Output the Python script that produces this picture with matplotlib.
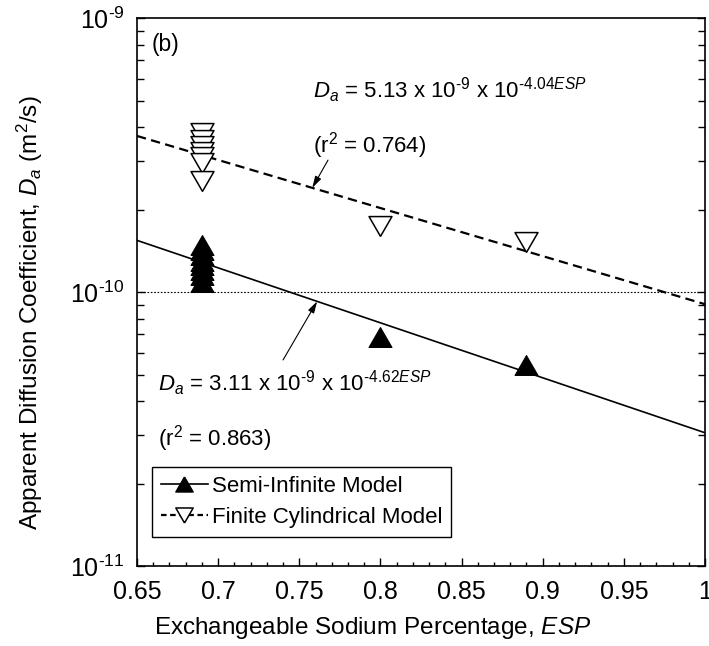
import numpy as np
import matplotlib
matplotlib.use('Agg')
import matplotlib.pyplot as plt
from matplotlib.ticker import MultipleLocator, FormatStrFormatter, LogLocator, FuncFormatter, NullFormatter

plt.rcParams['font.family'] = ['Liberation Sans', 'DejaVu Sans']
plt.rcParams['mathtext.fontset'] = 'custom'
plt.rcParams['mathtext.rm'] = 'Liberation Sans'
plt.rcParams['mathtext.it'] = 'Liberation Sans:italic'
plt.rcParams['mathtext.bf'] = 'Liberation Sans:bold'

# measured points (ESP, apparent diffusion coefficient m2/s)
esp_semi = [0.69, 0.69, 0.69, 0.69, 0.69, 0.69, 0.69, 0.69, 0.80, 0.89]
da_semi = [1.49e-10, 1.42e-10, 1.36e-10, 1.30e-10, 1.25e-10, 1.20e-10, 1.15e-10, 1.09e-10, 6.87e-11, 5.42e-11]

esp_fin = [0.69, 0.69, 0.69, 0.69, 0.69, 0.69, 0.69, 0.80, 0.89]
da_fin = [3.82e-10, 3.60e-10, 3.40e-10, 3.25e-10, 3.10e-10, 2.95e-10, 2.55e-10, 1.74e-10, 1.52e-10]

# regression coefficients
a_semi, b_semi, r2_semi = 3.11e-9, 4.62, 0.863
a_fin, b_fin, r2_fin = 5.13e-9, 4.04, 0.764
esp_fit = np.array([0.65, 1.0])

def fit(a, b, x):
    return a * np.exp(-b * np.asarray(x))

def pow10(v, pos):
    return r'10$^{\text{%d}}$' % int(round(np.log10(v))) if v > 0 else ''

# equilateral triangles
tri_up = [(0, 1), (-1.155, -1), (1.155, -1), (0, 1)]
tri_dn = [(0, -1), (-1.155, 1), (1.155, 1), (0, -1)]

fig = plt.figure(figsize=(7.09, 6.46), dpi=100)
ax = fig.add_axes([0.1932, 0.1238, 0.8012, 0.8483])

ax.axhline(1e-10, color='k', lw=0.8, ls=(0, (1.5, 1.5)), zorder=1)
ax.plot(esp_fit, fit(a_semi, b_semi, esp_fit), color='k', lw=1.2, zorder=2)
ax.plot(esp_fit, fit(a_fin, b_fin, esp_fit), color='k', lw=1.6, ls=(0, (4.2, 2.4)), zorder=2)

ax.plot(esp_semi, da_semi, ls='none', marker=tri_up, ms=16.5, mfc='k', mec='k', mew=0.8, zorder=3)
ax.plot(esp_fin, da_fin, ls='none', marker=tri_dn, ms=16.5, mfc='white', mec='k', mew=1.1, zorder=3)

# legend proxies
h1, = ax.plot([], [], color='k', lw=1.2, marker=tri_up, ms=12.5, mfc='k', mec='k')
h2, = ax.plot([], [], color='k', lw=1.6, ls=(0, (2.5, 1.6)), marker=tri_dn, ms=12.5, mfc='white', mec='k', mew=1.1)
leg = ax.legend([h1, h2], ['Semi-Infinite Model', 'Finite Cylindrical Model'],
                loc='lower left', bbox_to_anchor=(0.0264, 0.053), borderaxespad=0,
                fontsize=16, handlelength=2.1, handletextpad=0.2, labelspacing=0.45,
                borderpad=0.4, fancybox=False, framealpha=1, edgecolor='k')
leg.get_frame().set_linewidth(1.0)

ax.set_yscale('log')
ax.set_xlim(0.65, 1.0)
ax.set_ylim(1e-11, 1e-9)

ax.xaxis.set_major_locator(MultipleLocator(0.05))
ax.xaxis.set_minor_locator(MultipleLocator(0.01))
ax.xaxis.set_major_formatter(FormatStrFormatter('%g'))
ax.yaxis.set_major_locator(LogLocator(base=10))
ax.yaxis.set_minor_locator(LogLocator(base=10, subs=np.arange(2, 10)))
ax.yaxis.set_major_formatter(FuncFormatter(pow10))
ax.yaxis.set_minor_formatter(NullFormatter())

ax.tick_params(which='both', direction='in', labelsize=18, right=True, top=False, width=1.0)
ax.tick_params(which='major', length=6)
ax.tick_params(axis='x', which='major', pad=10)
ax.tick_params(axis='y', which='major', pad=9)
ax.tick_params(axis='x', which='minor', length=3)
ax.tick_params(axis='y', which='minor', length=5)
for s in ax.spines.values():
    s.set_linewidth(1.2)

ax.set_xlabel('Exchangeable Sodium Percentage, $ESP$', fontsize=17.5)
ax.set_ylabel('Apparent Diffusion Coefficient, $D_a$ (m$^2$/s)', fontsize=17.5)
ax.xaxis.set_label_coords(0.415, -0.09)
ax.yaxis.set_label_coords(-0.162, 0.462)

ax.text(0.0264, 0.94, '(b)', transform=ax.transAxes, fontsize=16.5, va='baseline')

ax.text(0.31, 0.854, r'$D_a$ = 5.13 x 10$^{\text{-9}}$ x 10$^{\text{-4.04}\mathit{ESP}}$',
        transform=ax.transAxes, fontsize=16, va='baseline')
ax.text(0.31, 0.7555, '(r$^2$ = %.3f)' % r2_fin, transform=ax.transAxes, fontsize=16, va='baseline')
ax.text(0.037, 0.319, r'$D_a$ = 3.11 x 10$^{\text{-9}}$ x 10$^{\text{-4.62}\mathit{ESP}}$',
        transform=ax.transAxes, fontsize=16, va='baseline')
ax.text(0.037, 0.2208, '(r$^2$ = %.3f)' % r2_semi, transform=ax.transAxes, fontsize=16, va='baseline')

arrow = dict(arrowstyle='-|>,head_length=0.7,head_width=0.2', color='k', lw=0.8, shrinkA=0, shrinkB=0)
ax.annotate('', xy=(0.758, fit(a_fin, b_fin, 0.758)), xytext=(0.7677, 3.03e-10), arrowprops=arrow)
ax.annotate('', xy=(0.761, fit(a_semi, b_semi, 0.761)), xytext=(0.740, 5.65e-11), arrowprops=arrow)

fig.savefig('out.png', dpi=100)
